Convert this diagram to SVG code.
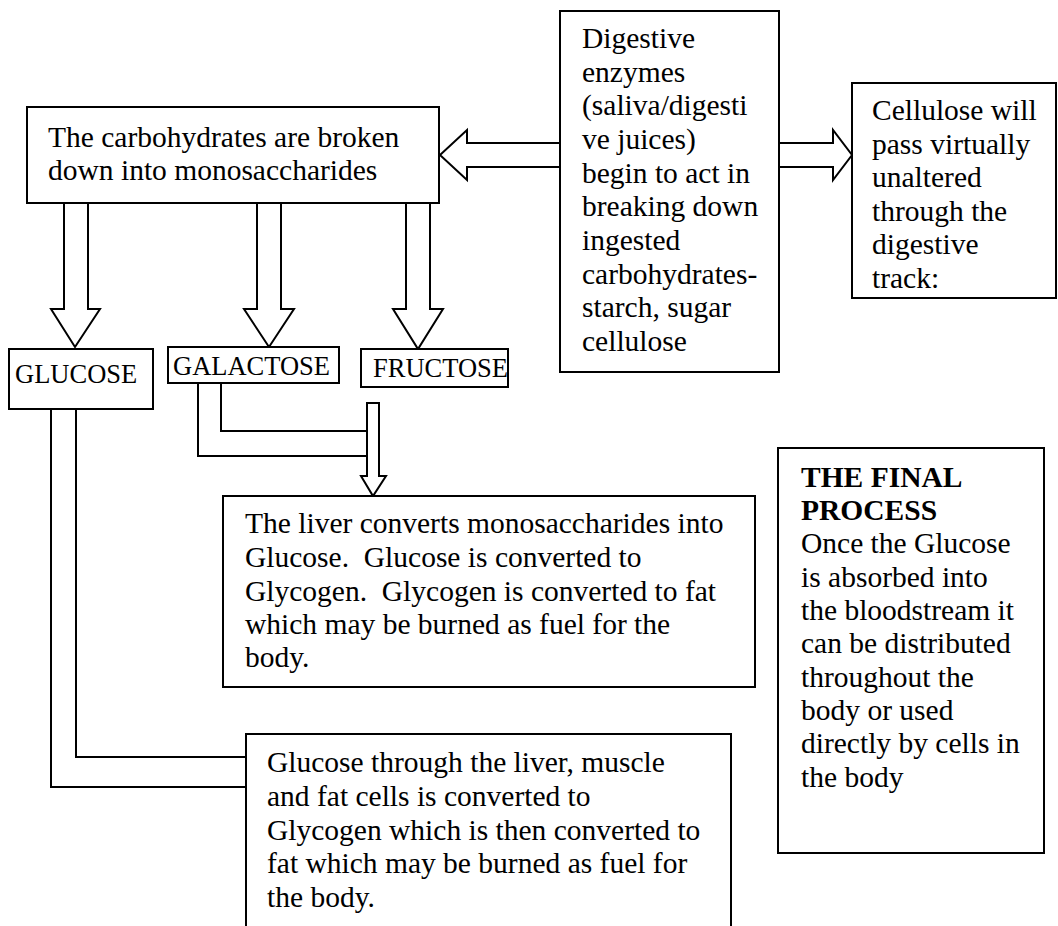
<svg xmlns="http://www.w3.org/2000/svg" width="1058" height="926" viewBox="0 0 1058 926">
<style>
.box{fill:#fff;stroke:#000;stroke-width:2}
.t{font-family:"Liberation Serif","Times New Roman",serif;font-size:29.5px;fill:#000}
.lbl{font-family:"Liberation Serif","Times New Roman",serif;font-size:26.5px;fill:#000}
.b{font-weight:bold}
.arr{fill:#fff;stroke:#000;stroke-width:2;stroke-linejoin:miter}
.ln{fill:none;stroke:#000;stroke-width:2}
</style>
<rect width="1058" height="926" fill="#fff"/>

<g id="connectors">
  <path class="arr" d="M560,143 H467 V130 L440,155 L467,180 V167 H560"/>
  <path class="arr" d="M779,143 H833 V130 L852,155 L833,180 V167 H779"/>
  <path class="arr" d="M64,203 V309 H51 L75,347 L100,309 H88 V203"/>
  <path class="arr" d="M257,203 V309 H244 L269,347 L294,309 H281 V203"/>
  <path class="arr" d="M406,203 V309 H393 L418,349 L443,309 H430 V203"/>
  <path class="ln" d="M198,383 V456 H367"/>
  <path class="ln" d="M221,383 V431 H367"/>
  <path class="arr" d="M367,403 H379 V476 H386 L373,496 L361,476 H367 Z"/>
  <path class="ln" d="M51,409 V787 H246"/>
  <path class="ln" d="M76,409 V757 H246"/>
</g>

<g id="node-monosaccharides">
  <rect class="box" x="27" y="107" width="412" height="96"/>
  <text class="t" x="48" y="147">The carbohydrates are broken</text>
  <text class="t" x="48" y="180">down into monosaccharides</text>
</g>

<g id="node-enzymes">
  <rect class="box" x="560" y="11" width="219" height="361"/>
  <text class="t" x="582" y="48">Digestive</text>
  <text class="t" x="582" y="82">enzymes</text>
  <text class="t" x="582" y="115">(saliva/digesti</text>
  <text class="t" x="582" y="149">ve juices)</text>
  <text class="t" x="582" y="183">begin to act in</text>
  <text class="t" x="582" y="216">breaking down</text>
  <text class="t" x="582" y="250">ingested</text>
  <text class="t" x="582" y="284">carbohydrates-</text>
  <text class="t" x="582" y="317">starch, sugar</text>
  <text class="t" x="582" y="351">cellulose</text>
</g>

<g id="node-cellulose">
  <rect class="box" x="852" y="83" width="204" height="215"/>
  <text class="t" x="872" y="120">Cellulose will</text>
  <text class="t" x="872" y="154">pass virtually</text>
  <text class="t" x="872" y="187">unaltered</text>
  <text class="t" x="872" y="221">through the</text>
  <text class="t" x="872" y="254">digestive</text>
  <text class="t" x="872" y="288">track:</text>
</g>

<g id="node-glucose">
  <rect class="box" x="9" y="349" width="144" height="60"/>
  <text class="lbl" x="15" y="383">GLUCOSE</text>
</g>

<g id="node-galactose">
  <rect class="box" x="168" y="347" width="171" height="36"/>
  <text class="lbl" x="173" y="375">GALACTOSE</text>
</g>

<g id="node-fructose">
  <rect class="box" x="361" y="349" width="147" height="38"/>
  <text class="lbl" x="373" y="377">FRUCTOSE</text>
</g>

<g id="node-liver">
  <rect class="box" x="223" y="496" width="532" height="191"/>
  <text class="t" x="245" y="533" xml:space="preserve">The liver converts monosaccharides into</text>
  <text class="t" x="245" y="567" xml:space="preserve">Glucose.  Glucose is converted to</text>
  <text class="t" x="245" y="601" xml:space="preserve">Glycogen.  Glycogen is converted to fat</text>
  <text class="t" x="245" y="634" xml:space="preserve">which may be burned as fuel for the</text>
  <text class="t" x="245" y="667" xml:space="preserve">body.</text>
</g>

<g id="node-glycogen">
  <rect class="box" x="246" y="734" width="485" height="200"/>
  <text class="t" x="267" y="772">Glucose through the liver, muscle</text>
  <text class="t" x="267" y="806">and fat cells is converted to</text>
  <text class="t" x="267" y="840">Glycogen which is then converted to</text>
  <text class="t" x="267" y="873">fat which may be burned as fuel for</text>
  <text class="t" x="267" y="907">the body.</text>
</g>

<g id="node-final">
  <rect class="box" x="778" y="448" width="266" height="405"/>
  <text class="t b" x="801" y="487">THE FINAL</text>
  <text class="t b" x="801" y="520">PROCESS</text>
  <text class="t" x="801" y="553">Once the Glucose</text>
  <text class="t" x="801" y="587">is absorbed into</text>
  <text class="t" x="801" y="620">the bloodstream it</text>
  <text class="t" x="801" y="653">can be distributed</text>
  <text class="t" x="801" y="687">throughout the</text>
  <text class="t" x="801" y="720">body or used</text>
  <text class="t" x="801" y="753">directly by cells in</text>
  <text class="t" x="801" y="787">the body</text>
</g>
</svg>
